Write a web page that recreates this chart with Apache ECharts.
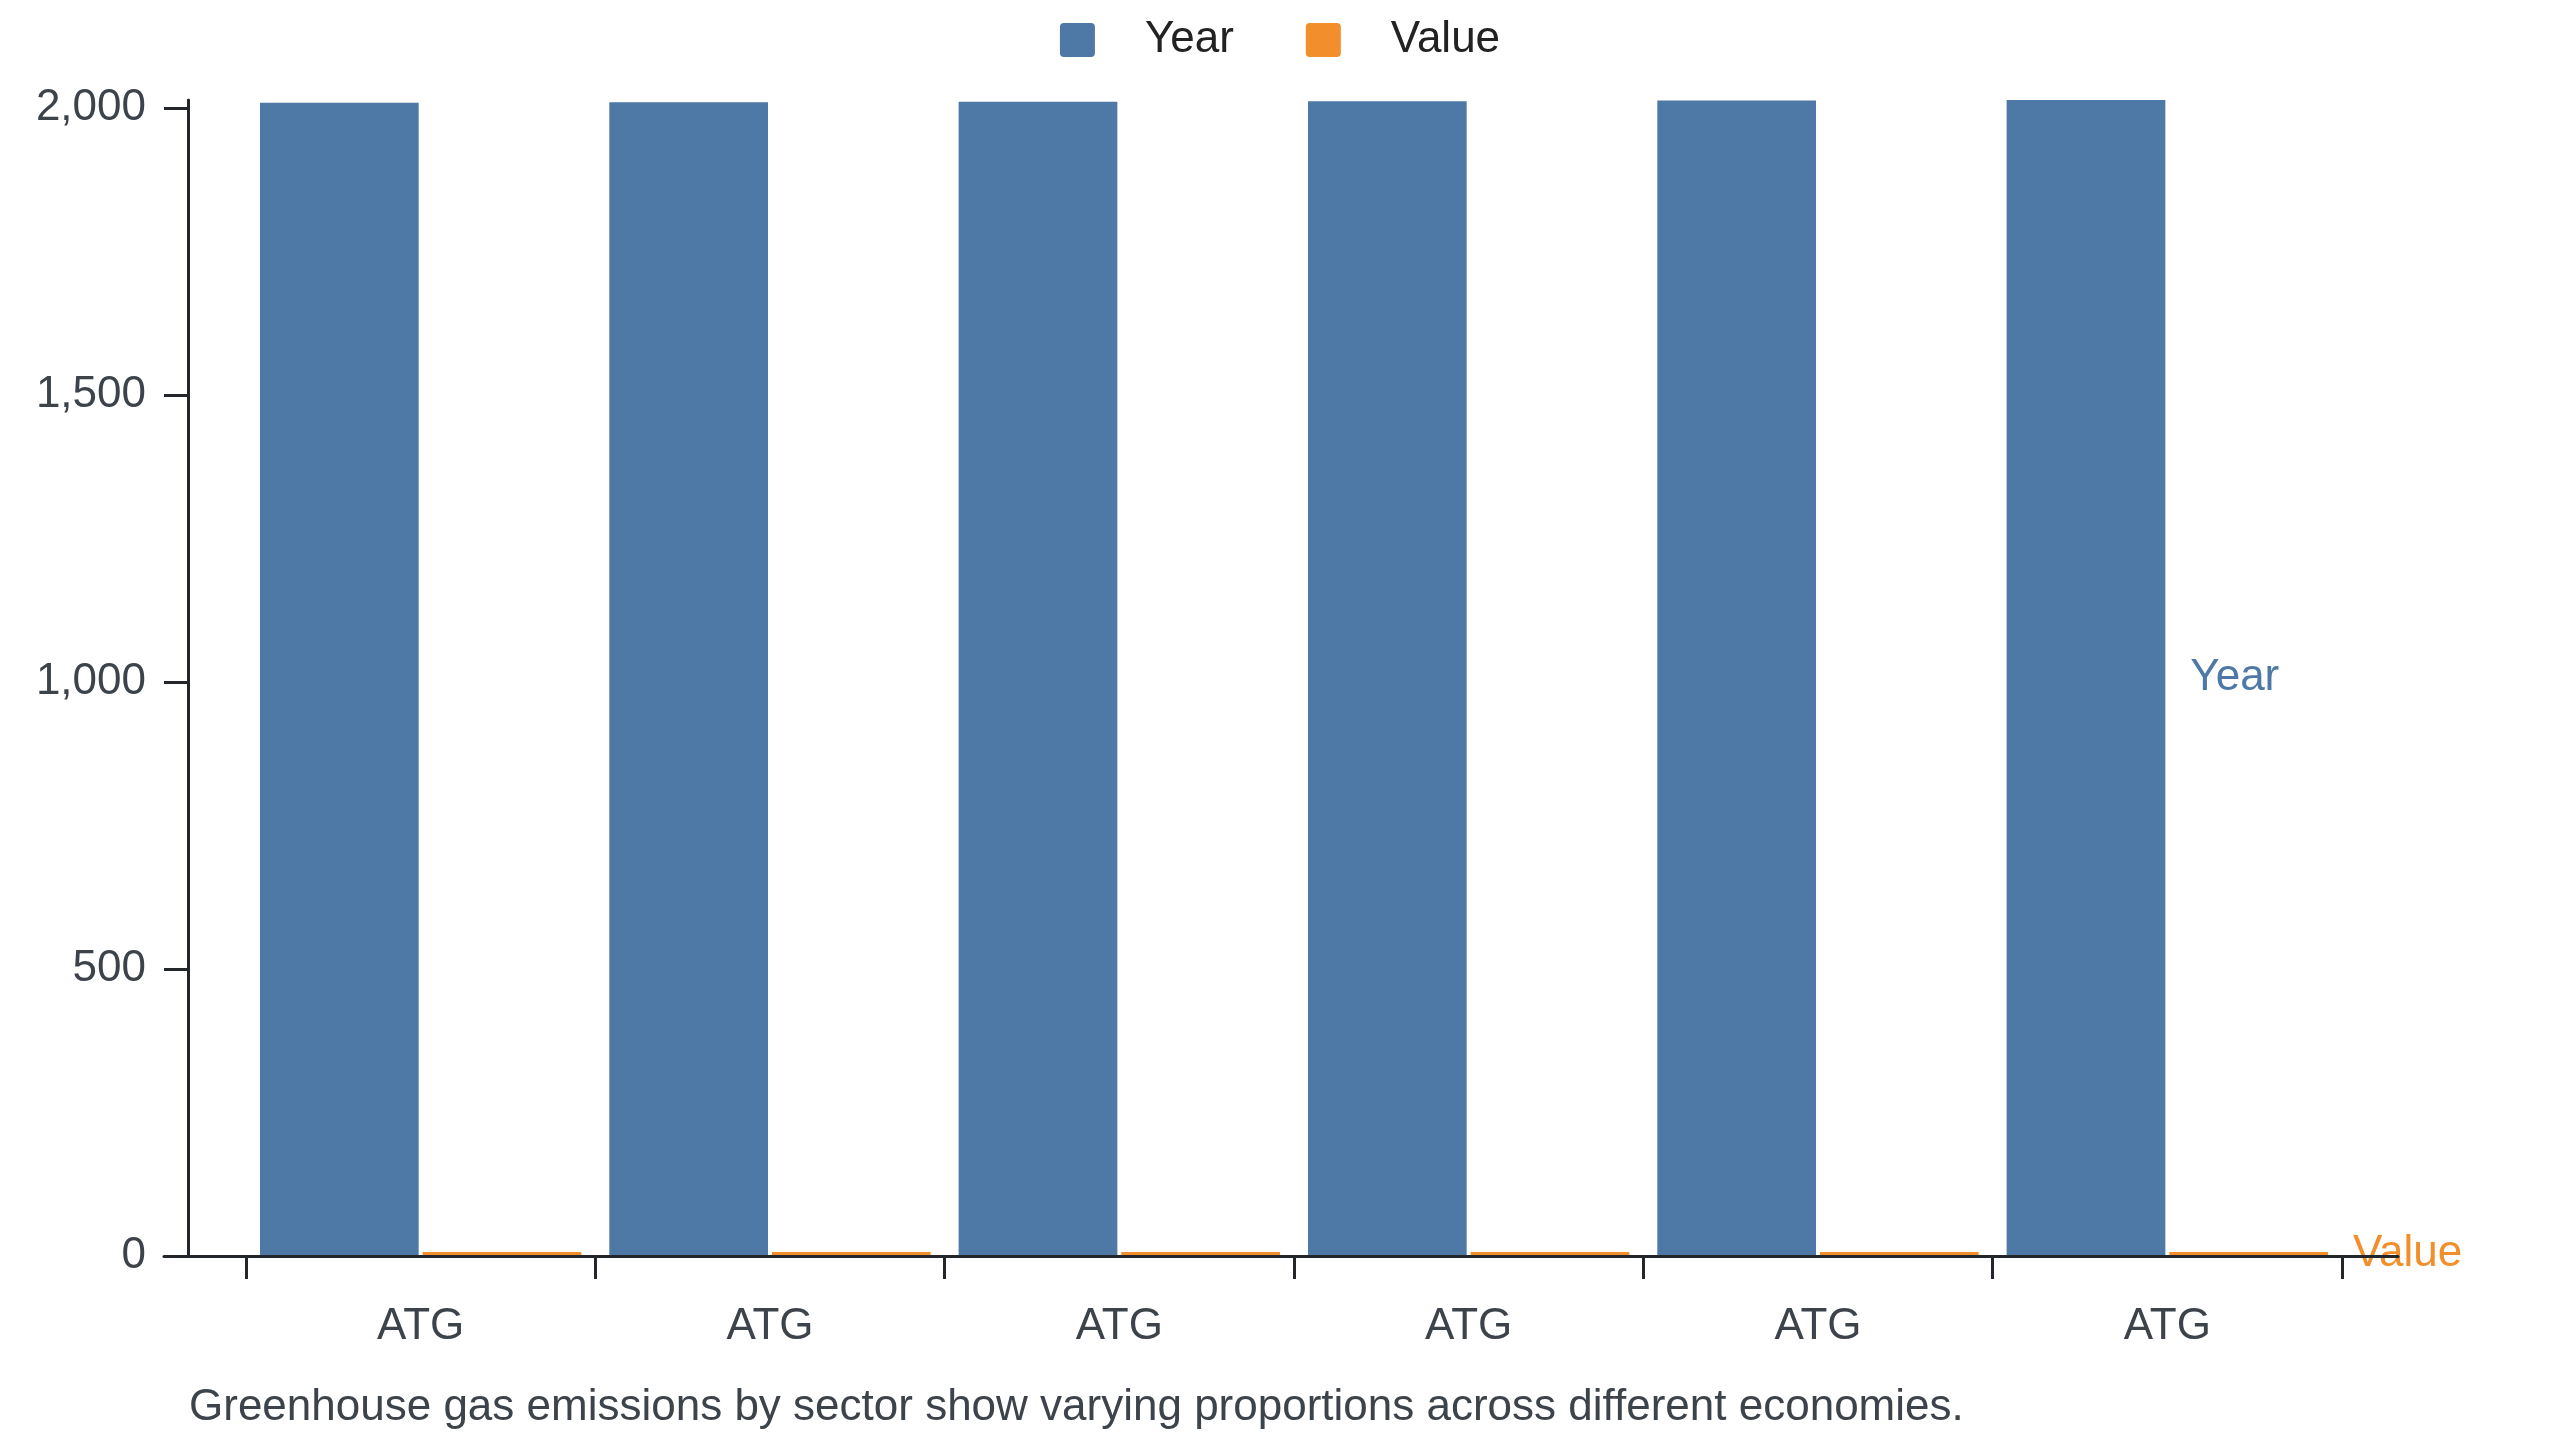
<!DOCTYPE html>
<html>
<head>
<meta charset="utf-8">
<title>Year / Value by country</title>
<script src="https://cdn.jsdelivr.net/npm/echarts@6/dist/echarts.min.js"></script>
<style>
  html, body { margin: 0; padding: 0; background: #fff; }
  #chart { width: 2560px; height: 1440px; }
</style>
</head>
<body>
<div id="chart"></div>
<script>
// data
var categories = ['ATG', 'ATG', 'ATG', 'ATG', 'ATG', 'ATG'];
var yearData = [2009, 2010, 2011, 2012, 2013, 2014];
var valueData = [7, 7, 7, 7, 7, 7];
var yTicks = [0, 500, 1000, 1500, 2000];
var caption = 'Greenhouse gas emissions by sector show varying proportions across different economies.';

var FONT = '"Liberation Sans", Arial, Helvetica, sans-serif';
var BLUE = '#4e79a7';
var ORANGE = '#f28e2b';
var AXIS = '#23272b';
var LABEL = '#3d434a';
var FS = 44;

// only the last bar of each series carries the series name, to its right
function withEndLabel(data, color) {
    return data.map(function (v, i) {
        if (i !== data.length - 1) return v;
        return {
            value: v,
            label: {
                show: true,
                position: 'right',
                distance: 25,
                formatter: '{a}',
                color: color,
                fontSize: FS,
                fontFamily: FONT
            }
        };
    });
}

var chart = echarts.init(document.getElementById('chart'), null, { renderer: 'canvas' });

var option = {
    animation: false,
    textStyle: { fontFamily: FONT },
    title: {
        text: caption,
        left: 189,
        top: 1386,
        padding: 0,
        textStyle: { fontSize: FS, fontWeight: 'normal', color: LABEL, fontFamily: FONT }
    },
    legend: {
        top: 13,
        left: 'center',
        icon: 'path://M4,0H31A4,4,0,0,1,35,4V30A4,4,0,0,1,31,34H4A4,4,0,0,1,0,30V4A4,4,0,0,1,4,0Z',
        itemWidth: 35,
        itemHeight: 34,
        itemGap: 72,
        data: ['Year', 'Value'],
        textStyle: { fontSize: FS, color: '#222', fontFamily: FONT, padding: [0, 0, 0, 45] }
    },
    grid: [
        { left: 246, right: 218, top: 100, bottom: 184, containLabel: false },
        // wider grid only used for the long baseline
        { left: 164, right: 162, top: 100, bottom: 184, containLabel: false }
    ],
    xAxis: [
        {
            type: 'category',
            gridIndex: 0,
            data: categories,
            z: 5,
            axisLine: { show: false },
            axisTick: { show: true, length: 23, lineStyle: { color: AXIS, width: 3 } },
            axisLabel: { fontSize: FS, color: LABEL, margin: 49, fontFamily: FONT, interval: 0 },
            splitLine: { show: false }
        },
        {
            type: 'value',
            gridIndex: 1,
            min: 0,
            max: 1,
            z: 5,
            axisLine: { show: true, lineStyle: { color: AXIS, width: 3 } },
            axisTick: { show: false },
            axisLabel: { show: false },
            splitLine: { show: false }
        }
    ],
    yAxis: [
        {
            type: 'value',
            gridIndex: 0,
            min: 0,
            max: 2014,
            offset: 58,
            z: 5,
            axisLine: { show: true, lineStyle: { color: AXIS, width: 3 } },
            axisTick: { show: true, length: 24, customValues: yTicks, lineStyle: { color: AXIS, width: 3 } },
            axisLabel: {
                fontSize: FS,
                color: LABEL,
                margin: 42,
                fontFamily: FONT,
                customValues: yTicks,
                formatter: function (v) { return v.toLocaleString('en-US'); }
            },
            splitLine: { show: false }
        },
        {
            type: 'value',
            gridIndex: 1,
            show: false
        }
    ],
    series: [
        {
            name: 'Year',
            type: 'bar',
            xAxisIndex: 0,
            yAxisIndex: 0,
            barCategoryGap: '8%',
            barGap: '2.5%',
            itemStyle: { color: BLUE },
            data: withEndLabel(yearData, BLUE)
        },
        {
            name: 'Value',
            type: 'bar',
            xAxisIndex: 0,
            yAxisIndex: 0,
            barCategoryGap: '8%',
            barGap: '2.5%',
            itemStyle: { color: ORANGE },
            data: withEndLabel(valueData, ORANGE)
        }
    ]
};

chart.setOption(option);
</script>
</body>
</html>
